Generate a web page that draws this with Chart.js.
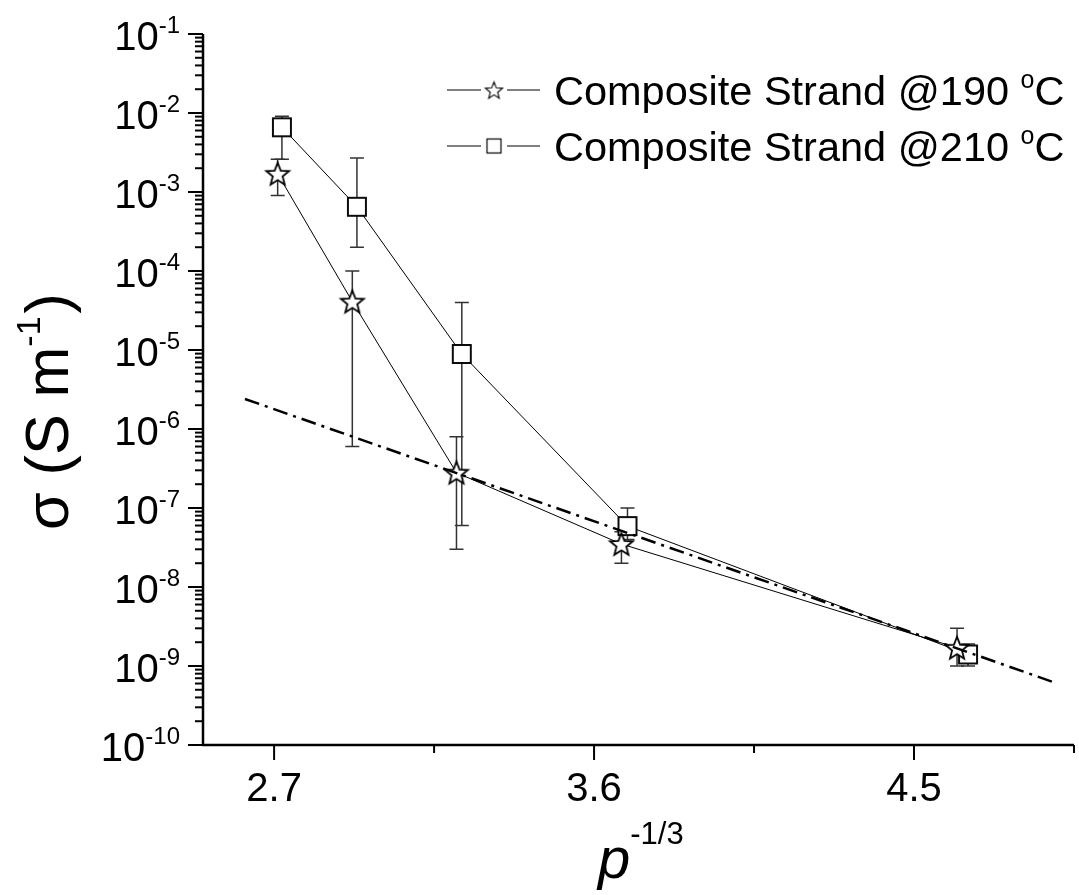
<!DOCTYPE html>
<html>
<head>
<meta charset="utf-8">
<script src="https://cdn.jsdelivr.net/npm/chart.js@4.4.0/dist/chart.umd.min.js"></script>
<style>
  html, body { margin: 0; padding: 0; background: #fff; }
  #wrap { width: 1079px; height: 895px; }
</style>
</head>
<body>
<div id="wrap"><canvas id="chart" width="1079" height="895"></canvas></div>
<script>
// composite strand @190 C (stars)
const x190 = [2.71, 2.92, 3.213, 3.677, 4.621];
const sigma190 = [1.7e-3, 4.1e-5, 2.8e-7, 3.5e-8, 1.7e-9];
const hi190 = [2.6e-3, 1.0e-4, 8.0e-7, 5.0e-8, 3.0e-9];
const lo190 = [9.0e-4, 6.0e-7, 3.0e-8, 2.0e-8, 1.0e-9];

// composite strand @210 C (squares)
const x210 = [2.722, 2.933, 3.228, 3.694, 4.652];
const sigma210 = [6.6e-3, 6.5e-4, 8.9e-6, 5.9e-8, 1.4e-9];
const hi210 = [9.1e-3, 2.7e-3, 4.0e-5, 1.0e-7, 1.9e-9];
const lo210 = [2.6e-3, 2.0e-4, 6.0e-8, 4.0e-8, 1.0e-9];

// dash-dot fit line
const xFit = [2.618, 4.89];
const sigmaFit = [2.4e-6, 6.3e-10];

const seriesNames = ['Composite Strand @190 ', 'Composite Strand @210 '];
const xMajor = [2.7, 3.6, 4.5];
const xMinor = [3.15, 4.05, 4.95];
const yExponents = [-10, -9, -8, -7, -6, -5, -4, -3, -2, -1];

const FONT = '"Liberation Sans", Arial, Helvetica, sans-serif';

function makeStar(outer, inner, lw) {
    const size = Math.ceil(outer * 2 + lw * 2 + 2);
    const c = document.createElement('canvas');
    c.width = size; c.height = size;
    const g = c.getContext('2d');
    g.translate(size / 2, size / 2 + 1);
    g.beginPath();
    for (let i = 0; i < 10; i++) {
        const r = i % 2 === 0 ? outer : inner;
        const a = -Math.PI / 2 + i * Math.PI / 5;
        if (i === 0) g.moveTo(r * Math.cos(a), r * Math.sin(a));
        else g.lineTo(r * Math.cos(a), r * Math.sin(a));
    }
    g.closePath();
    g.fillStyle = '#fff';
    g.fill();
    g.lineWidth = lw;
    g.strokeStyle = '#000';
    g.stroke();
    return c;
}

function makeSquare(side, lw) {
    const size = Math.ceil(side + lw * 2 + 2);
    const c = document.createElement('canvas');
    c.width = size; c.height = size;
    const g = c.getContext('2d');
    const o = (size - side) / 2;
    g.fillStyle = '#fff';
    g.fillRect(o, o, side, side);
    g.lineWidth = lw;
    g.strokeStyle = '#000';
    g.strokeRect(o, o, side, side);
    return c;
}

const starImg = makeStar(12, 5.2, 1.8);
const squareImg = makeSquare(18, 1.9);
const starSmall = makeStar(9, 3.9, 1.1);
const squareSmall = makeSquare(14, 1.2);

const toPoints = (xs, ys) => xs.map((x, i) => ({x: x, y: ys[i]}));

// draws "base" followed by a raised smaller "sup"; returns end x
function drawSup(ctx, base, sup, x, y, size, supSize, rise, italic) {
    ctx.font = (italic ? 'italic ' : '') + size + 'px ' + FONT;
    ctx.fillText(base, x, y);
    const w = ctx.measureText(base).width;
    ctx.font = supSize + 'px ' + FONT;
    ctx.fillText(sup, x + w, y - rise);
    return x + w + ctx.measureText(sup).width;
}

const errorBars = {
    id: 'errorBars',
    beforeDatasetsDraw(chart) {
        const ctx = chart.ctx;
        const xs = chart.scales.x, ys = chart.scales.y;
        const sets = [[x190, hi190, lo190], [x210, hi210, lo210]];
        ctx.save();
        ctx.strokeStyle = '#333';
        ctx.lineWidth = 1.5;
        sets.forEach(([xv, hv, lv]) => {
            xv.forEach((x, i) => {
                const px = xs.getPixelForValue(x);
                const pt = ys.getPixelForValue(hv[i]);
                const pb = ys.getPixelForValue(lv[i]);
                ctx.beginPath();
                ctx.moveTo(px, pt); ctx.lineTo(px, pb);
                ctx.moveTo(px - 7, pt); ctx.lineTo(px + 7, pt);
                ctx.moveTo(px - 7, pb); ctx.lineTo(px + 7, pb);
                ctx.stroke();
            });
        });
        ctx.restore();
    }
};

const decorations = {
    id: 'decorations',
    afterDraw(chart) {
        const ctx = chart.ctx;
        const xs = chart.scales.x, ys = chart.scales.y;
        const area = chart.chartArea;
        ctx.save();
        ctx.strokeStyle = '#000';
        ctx.fillStyle = '#000';
        ctx.lineWidth = 2.5;

        // axes
        ctx.beginPath();
        ctx.moveTo(area.left, area.top);
        ctx.lineTo(area.left, area.bottom);
        ctx.lineTo(area.right, area.bottom);
        ctx.stroke();

        // y ticks (log decades + minors)
        ctx.lineWidth = 2;
        yExponents.forEach(e => {
            const py = ys.getPixelForValue(Math.pow(10, e));
            ctx.beginPath();
            ctx.moveTo(area.left - 15, py); ctx.lineTo(area.left, py);
            ctx.stroke();
            if (e < -1) {
                for (let m = 2; m <= 9; m++) {
                    const my = ys.getPixelForValue(m * Math.pow(10, e));
                    ctx.beginPath();
                    ctx.moveTo(area.left - 8, my); ctx.lineTo(area.left, my);
                    ctx.stroke();
                }
            }
            ctx.textBaseline = 'alphabetic';
            ctx.textAlign = 'left';
            ctx.font = '40px ' + FONT;
            const bw = ctx.measureText('10').width;
            ctx.font = '24px ' + FONT;
            const sw = ctx.measureText(String(e)).width;
            drawSup(ctx, '10', String(e), 180 - bw - sw, py + 16, 40, 24, 17, false);
        });

        // x ticks
        xMajor.forEach(v => {
            const px = xs.getPixelForValue(v);
            ctx.beginPath();
            ctx.moveTo(px, area.bottom); ctx.lineTo(px, area.bottom + 15);
            ctx.stroke();
            ctx.font = '40px ' + FONT;
            ctx.textAlign = 'center';
            ctx.fillText(String(v), px, 801);
        });
        xMinor.forEach(v => {
            const px = xs.getPixelForValue(v);
            ctx.beginPath();
            ctx.moveTo(px, area.bottom); ctx.lineTo(px, area.bottom + 8);
            ctx.stroke();
        });

        // x title
        ctx.textAlign = 'left';
        drawSup(ctx, 'p', '-1/3', 598, 878, 58, 31, 34, true);

        // y title (rotated)
        ctx.save();
        ctx.translate(68, 530);
        ctx.rotate(-Math.PI / 2);
        const ex = drawSup(ctx, '\u03c3 (S m', '-1', 0, 0, 61, 34, 28, false);
        ctx.font = '61px ' + FONT;
        ctx.fillText(')', ex + 3, 0);
        ctx.restore();

        // legend
        const rows = [[90, starSmall], [146, squareSmall]];
        ctx.lineWidth = 1;
        rows.forEach(([ry, img], i) => {
            ctx.beginPath();
            ctx.moveTo(447, ry); ctx.lineTo(481, ry);
            ctx.moveTo(507, ry); ctx.lineTo(540, ry);
            ctx.stroke();
            ctx.drawImage(img, 494 - img.width / 2, ry - img.height / 2);
            ctx.textBaseline = 'alphabetic';
            const base = ry + 15;
            const endX = drawSup(ctx, seriesNames[i], 'o', 554, base, 41.5, 25, 17, false);
            ctx.font = '41.5px ' + FONT;
            ctx.fillText('C', endX, base);
        });
        ctx.restore();
    }
};

new Chart(document.getElementById('chart').getContext('2d'), {
    type: 'scatter',
    data: {
        datasets: [
            {
                label: 'fit',
                data: toPoints(xFit, sigmaFit),
                showLine: true,
                borderColor: '#000',
                borderWidth: 2.5,
                borderDash: [15, 6, 3, 6],
                pointRadius: 0
            },
            {
                label: seriesNames[0],
                data: toPoints(x190, sigma190),
                showLine: true,
                borderColor: '#000',
                borderWidth: 1,
                pointStyle: starImg
            },
            {
                label: seriesNames[1],
                data: toPoints(x210, sigma210),
                showLine: true,
                borderColor: '#000',
                borderWidth: 1,
                pointStyle: squareImg
            }
        ]
    },
    options: {
        responsive: false,
        animation: false,
        layout: {padding: {top: 34, right: 4, left: 0, bottom: 0}},
        plugins: {legend: {display: false}, tooltip: {enabled: false}},
        scales: {
            x: {
                type: 'linear', min: 2.5, max: 4.95,
                grid: {display: false, drawTicks: false},
                border: {display: false},
                ticks: {display: false},
                afterFit: s => { s.height = 150; }
            },
            y: {
                type: 'logarithmic', min: 1e-10, max: 1e-1,
                grid: {display: false, drawTicks: false},
                border: {display: false},
                ticks: {display: false},
                afterFit: s => { s.width = 203; }
            }
        }
    },
    plugins: [errorBars, decorations]
});
</script>
</body>
</html>
